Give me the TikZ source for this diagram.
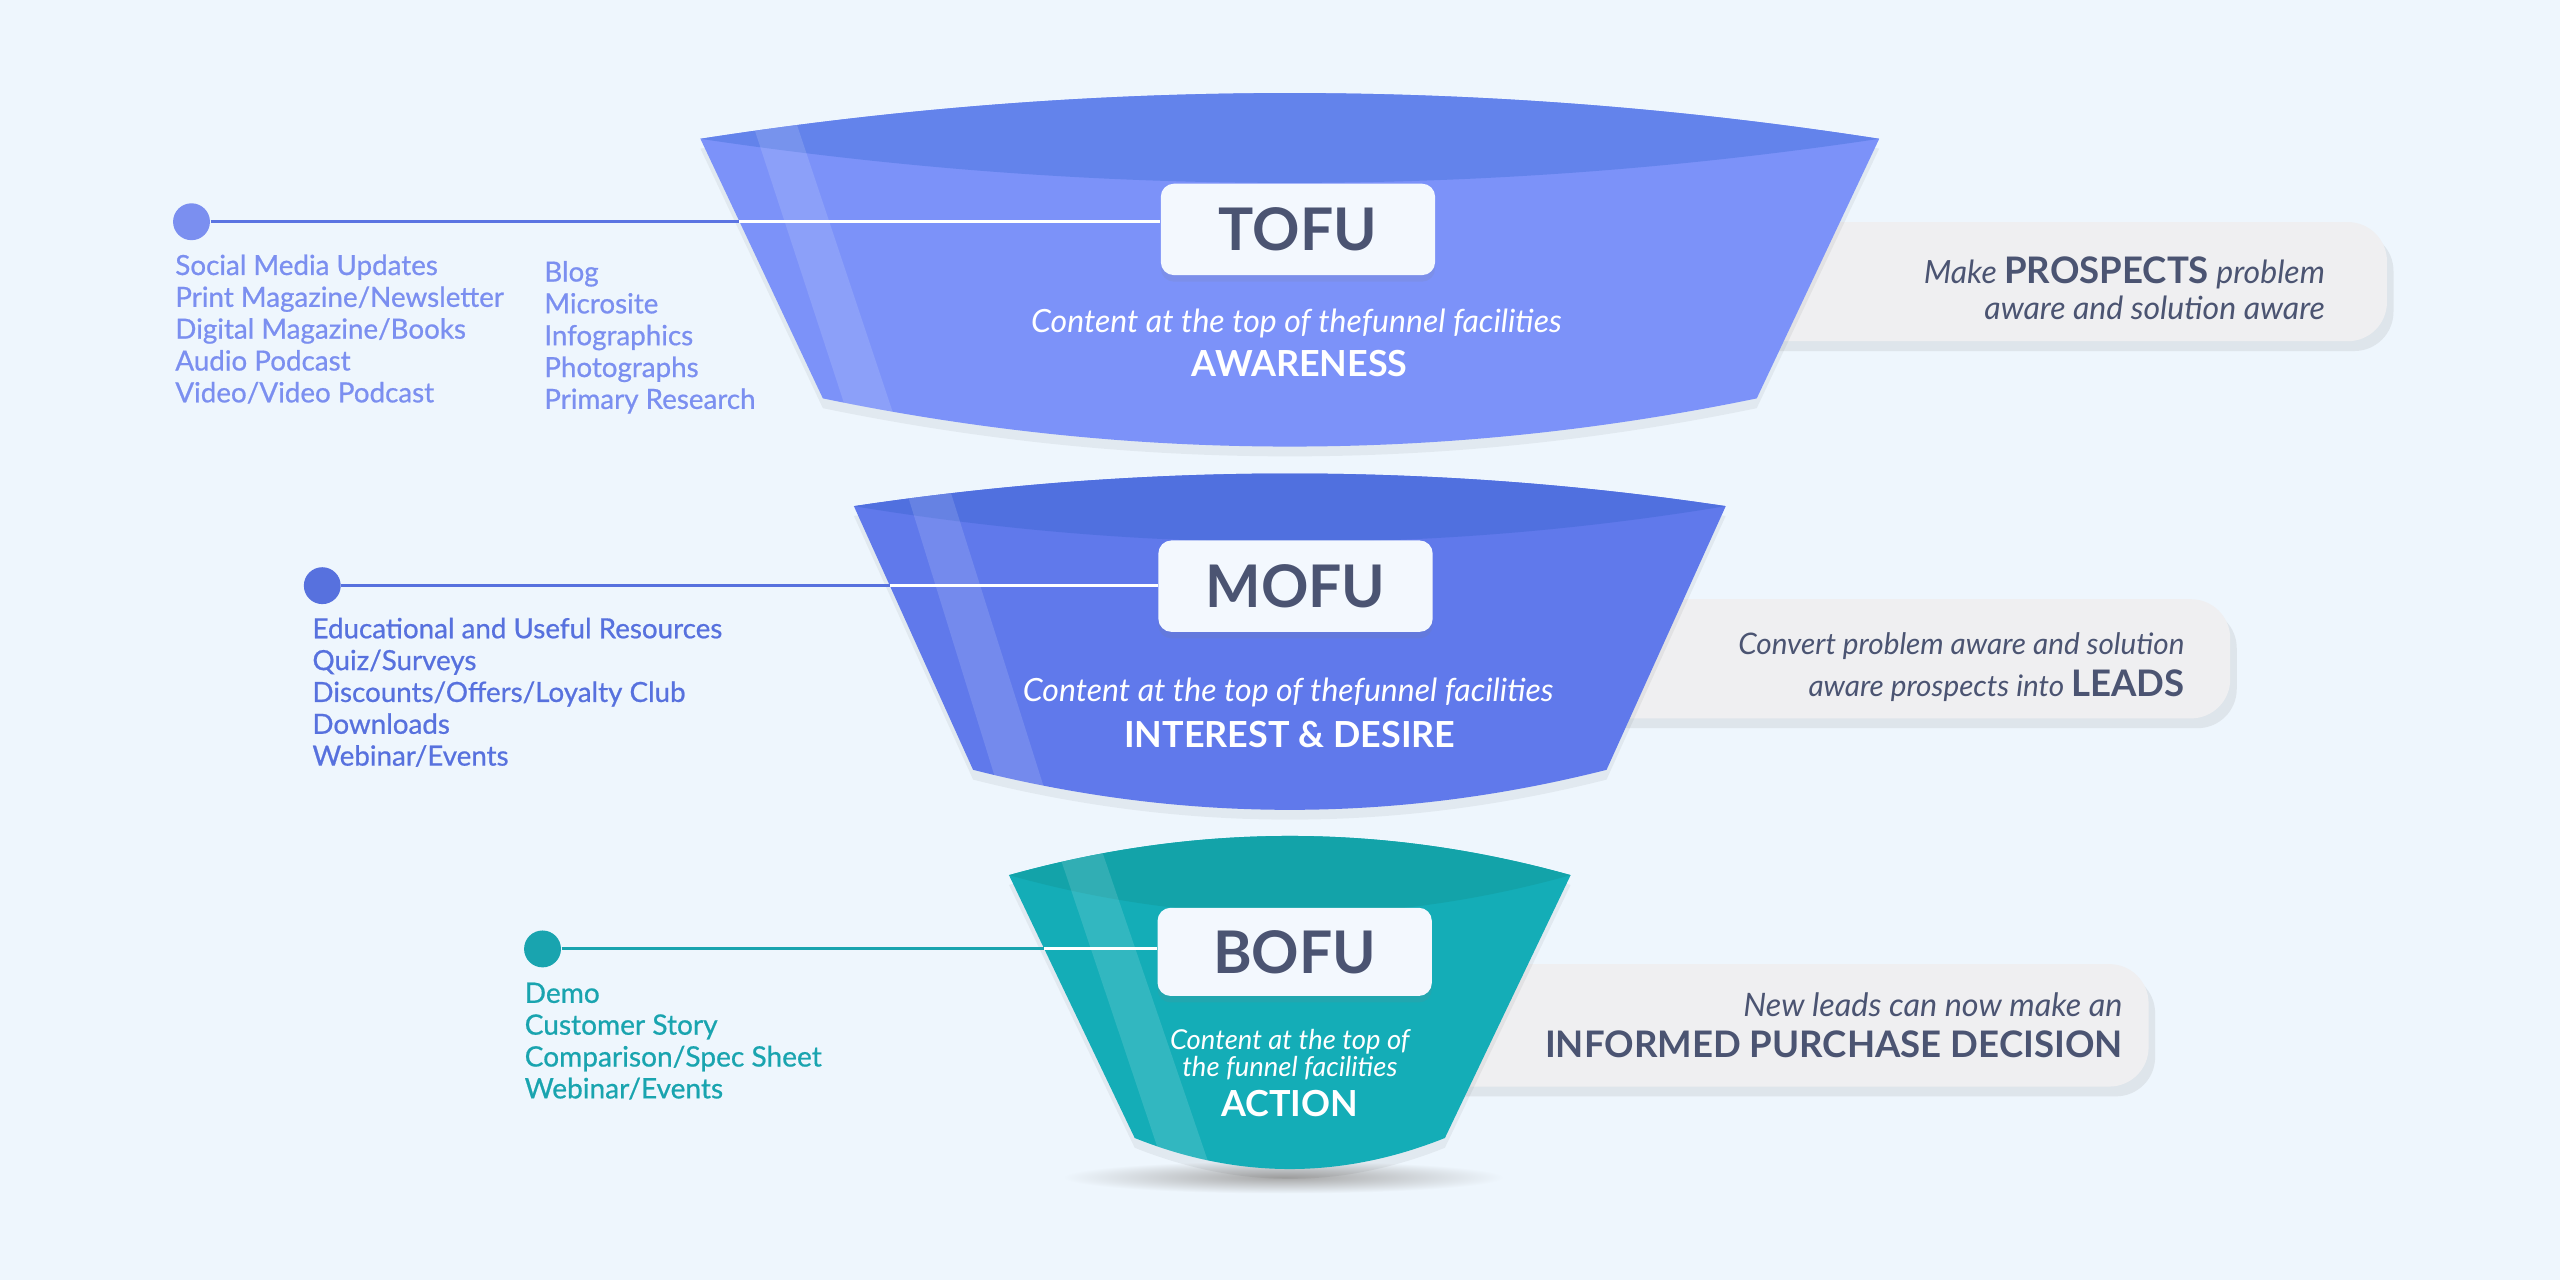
\documentclass[tikz,border=0pt]{standalone}
\usepackage{fontspec}
\setmainfont{Lato}
\newfontfamily\listfont[FakeBold=0.7]{Lato}
\usepackage{tikz}
\usetikzlibrary{positioning,shadows,calc}
\definecolor{pagebg}{HTML}{EEF6FD}
\definecolor{slate}{HTML}{4B5472}
\definecolor{tagwhite}{HTML}{F3F8FE}
\definecolor{notegray}{HTML}{EFEFF1}
\definecolor{tofubody}{HTML}{7C92F9}
\definecolor{tofutop}{HTML}{6383EB}
\definecolor{tofuink}{HTML}{7B8FF0}
\definecolor{tofuline}{HTML}{5B74E2}
\definecolor{mofubody}{HTML}{6079EB}
\definecolor{mofutop}{HTML}{5070DF}
\definecolor{mofuink}{HTML}{5771DE}
\definecolor{bofubody}{HTML}{14ADB7}
\definecolor{bofutop}{HTML}{13A3A9}
\definecolor{bofuink}{HTML}{19A4AF}
\tikzset{
  dot/.style={circle,fill=#1,inner sep=0pt,minimum size=11.3pt},
  link/.style={line width=0.9pt,draw=#1},
  items/.style={anchor=north west,align=left,inner sep=0pt,text=#1,
    font=\listfont\fontsize{8.5}{9.75}\selectfont},
  tag/.style={rectangle,fill=tagwhite,rounded corners=4pt,minimum width=84pt,
    minimum height=28pt,inner sep=0pt,text=slate,text depth=0pt,
    font=\fontsize{18}{20}\selectfont\bfseries,
    drop shadow={opacity=0.12,shadow xshift=0pt,shadow yshift=-2pt}},
  sub/.style={align=center,inner sep=0pt,text=white,
    font=\fontsize{9.8}{10}\selectfont\itshape},
  stage/.style={inner sep=0pt,text=white,text depth=0pt,
    font=\fontsize{11}{12}\selectfont\bfseries},
  note/.style={rectangle,fill=notegray,rounded corners=12pt,minimum height=36.5pt,
    drop shadow={opacity=0.14,shadow xshift=2pt,shadow yshift=-3pt}},
  notetxt/.style={align=right,inner sep=0pt,text=slate,
    font=\fontsize{9.8}{10.8}\selectfont\itshape}
}
\newcommand{\stressword}[1]{{\fontsize{11.2}{12}\selectfont\upshape\bfseries #1}}
% cx, top y, top half width, rim peak, rim dip, bottom y, bottom half width, bottom dip, colour prefix
\newcommand{\funnel}[9]{%
  \pgfmathsetmacro\fnL{#1-#3}\pgfmathsetmacro\fnR{#1+#3}%
  \pgfmathsetmacro\fnBL{#1-#7}\pgfmathsetmacro\fnBR{#1+#7}%
  \pgfmathsetmacro\fnLc{#1-#3/3}\pgfmathsetmacro\fnRc{#1+#3/3}%
  \pgfmathsetmacro\fnBLc{#1-#7/3}\pgfmathsetmacro\fnBRc{#1+#7/3}%
  \pgfmathsetmacro\fnPk{(#4-0.25*#2)/0.75}%
  \pgfmathsetmacro\fnDp{(#5-0.25*#2)/0.75}%
  \pgfmathsetmacro\fnBt{(#8-0.25*#6)/0.75}%
  \def\fnOutline{(\fnL,#2) -- (\fnBL,#6) .. controls (\fnBLc,\fnBt) and (\fnBRc,\fnBt) .. (\fnBR,#6)
    -- (\fnR,#2) .. controls (\fnRc,\fnPk) and (\fnLc,\fnPk) .. cycle}%
  \fill[black,opacity=0.05,yshift=-3pt] \fnOutline;
  \fill[#9body] \fnOutline;
  \fill[#9top] (\fnL,#2) .. controls (\fnLc,\fnPk) and (\fnRc,\fnPk) .. (\fnR,#2)
    .. controls (\fnRc,\fnDp) and (\fnLc,\fnDp) .. cycle;
  \coordinate (#9sa) at (\fnL+35,#2);
  \coordinate (#9sb) at (\fnBL+12,#6);
  \coordinate (#9sc) at (\fnL+62,#2);
  \coordinate (#9sd) at (\fnBL+40,#6);
  \begin{scope}
    \clip \fnOutline;
    \fill[white,opacity=0.13] ($(#9sa)!-0.2!(#9sb)$) -- ($(#9sc)!-0.2!(#9sd)$)
      -- ($(#9sd)!-0.2!(#9sc)$) -- ($(#9sb)!-0.2!(#9sa)$) -- cycle;
  \end{scope}
}

\begin{document}
\begin{tikzpicture}[x=0.5pt,y=-0.5pt]
  \fill[pagebg] (0,0) rectangle (1568,784);

  \node[note,minimum width=201pt] (tofuNote) at (1261,172.5) {};
  \node[note,minimum width=203pt] (mofuNote) at (1163,403.5) {};
  \node[note,minimum width=228pt,minimum height=37.5pt] (bofuNote) at (1088,628) {};

  \shade[inner color=black!35,outer color=pagebg] (786,721) ellipse (135 and 10);

  \funnel{790}{85}{361}{57}{112}{244}{286}{273.5}{tofu}
  \funnel{790}{310}{267}{290}{332}{471.5}{194}{496}{mofu}
  \funnel{790}{536}{172}{512}{560}{697}{95}{716}{bofu}

  \node[tag] (tofu) at (795,140.5) {TOFU};
  \node[tag] (mofu) at (793.5,359) {MOFU};
  \node[tag,minimum height=27pt] (bofu) at (793,583) {BOFU};

  \node[sub] (tofuSub) at (794,198) {Content at the top of thefunnel facilities};
  \node[stage] (tofuStage) at (796,222.5) {AWARENESS};
  \node[sub] (mofuSub) at (789,424) {Content at the top of thefunnel facilities};
  \node[stage] (mofuStage) at (790,450) {INTEREST \& DESIRE};
  \node[sub,font=\fontsize{8.4}{8.2}\selectfont\itshape] (bofuSub) at (790,646)
    {Content at the top of\\the funnel facilities};
  \node[stage] (bofuStage) at (790,675.6) {ACTION};

  \node[dot=tofuink] (tofuDot) at (117.3,135.8) {};
  \coordinate (tofuEdge) at (452.8,135.8);
  \draw[link=tofuline] (tofuDot) -- (tofuEdge);
  \draw[link=white] (tofuEdge) -- (tofuEdge -| tofu.west);

  \node[dot=mofuink] (mofuDot) at (197.4,358.7) {};
  \coordinate (mofuEdge) at (545.1,358.7);
  \draw[link=mofuink] (mofuDot) -- (mofuEdge);
  \draw[link=white] (mofuEdge) -- (mofuEdge -| mofu.west);

  \node[dot=bofuink] (bofuDot) at (332.3,581.2) {};
  \coordinate (bofuEdge) at (639.6,581.2);
  \draw[link=bofuink] (bofuDot) -- (bofuEdge);
  \draw[link=white] (bofuEdge) -- (bofuEdge -| bofu.west);

  \node[items=tofuink] (tofuMedia) at (107,155.5) {Social Media Updates\\Print Magazine/Newsletter\\
    Digital Magazine/Books\\Audio Podcast\\Video/Video Podcast};
  \node[items=tofuink] (tofuWeb) at (333,159.5) {Blog\\Microsite\\Infographics\\Photographs\\Primary Research};
  \node[items=mofuink] (mofuList) at (191,378) {Educational and Useful Resources\\Quiz/Surveys\\
    Discounts/Offers/Loyalty Club\\Downloads\\Webinar/Events};
  \node[items=bofuink,font=\listfont\fontsize{8.6}{9.75}\selectfont] (bofuList) at (321,601.5)
    {Demo\\Customer Story\\Comparison/Spec Sheet\\Webinar/Events};

  \node[notetxt,left=19pt of tofuNote.east,yshift=-2pt] (tofuMsg)
    {Make \stressword{PROSPECTS} problem\\aware and solution aware};
  \node[notetxt,left=14pt of mofuNote.east,yshift=-2.5pt,font=\fontsize{9.1}{12.8}\selectfont\itshape] (mofuMsg)
    {Convert problem aware and solution\\aware prospects into \stressword{LEADS}};
  \node[notetxt,left=8pt of bofuNote.east,font=\fontsize{9.9}{12.8}\selectfont\itshape] (bofuMsg)
    {New leads can now make an\\{\fontsize{11.2}{13}\selectfont\upshape\bfseries INFORMED PURCHASE DECISION}};
\end{tikzpicture}
\end{document}
